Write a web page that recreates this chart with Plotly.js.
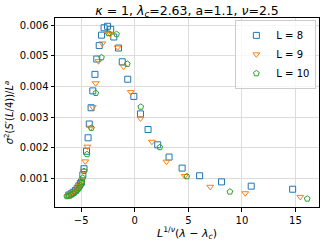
<!DOCTYPE html>
<html>
<head>
<meta charset="utf-8">
<script src="https://cdn.plot.ly/plotly-3.0.1.min.js"></script>
<style>html,body{margin:0;padding:0;background:#fff;}#chart{width:327px;height:244px;}</style>
</head>
<body>
<div id="chart"></div>
<script>
// L = 8
var x8 = [-6.15,-5.95,-5.75,-5.55,-5.38,-5.22,-5.08,-4.98,-4.85,-4.74,-4.51,-4.36,-4.25,-4.08,-3.92,-3.72,-3.55,-3.32,-3.11,-2.87,-2.55,-2.25,-1.96,-1.52,-1.17,-0.66,-0.09,0.53,1.24,2.14,3.2,4.42,6.05,8.1,10.87,14.74];
var y8 = [0.00046,0.00050,0.00055,0.00061,0.00068,0.00076,0.00084,0.00088,0.00112,0.00132,0.00189,0.00233,0.00278,0.00331,0.00386,0.00440,0.00490,0.00534,0.00568,0.00592,0.00597,0.00587,0.00562,0.00526,0.00481,0.00424,0.00368,0.00311,0.00260,0.00210,0.00170,0.00134,0.00109,0.00089,0.00075,0.00065];
// L = 9
var x9 = [-6.25,-6.05,-5.85,-5.65,-5.45,-5.28,-5.13,-5.0,-4.9,-4.77,-4.62,-4.42,-4.14,-3.92,-3.66,-3.39,-3.03,-2.55,-2.3,-1.60,-1.05,-0.37,0.53,1.60,2.96,4.67,7.04,10.31,15.45];
var y9 = [0.00043,0.00046,0.00050,0.00055,0.00061,0.00068,0.00076,0.00085,0.00097,0.00125,0.00156,0.00204,0.00266,0.00333,0.00411,0.00483,0.00541,0.00575,0.00572,0.00528,0.00465,0.00382,0.00296,0.00220,0.00155,0.00108,0.00073,0.00052,0.00040];
// L = 10
var x10 = [-6.35,-6.15,-5.95,-5.75,-5.55,-5.37,-5.2,-5.06,-4.95,-4.86,-4.74,-4.46,-4.05,-3.64,-3.11,-2.45,-1.70,-0.70,0.56,2.34,4.86,8.88,16.1];
var y10 = [0.00042,0.00044,0.00047,0.00051,0.00056,0.00062,0.00069,0.00077,0.00088,0.00102,0.00124,0.00179,0.00265,0.00379,0.00495,0.00574,0.00571,0.00474,0.00334,0.00202,0.00107,0.00057,0.00034];

var xTickVals = [-5,0,5,10,15];
var xTickText = ['\u22125','0','5','10','15'];
var yTickVals = [0.001,0.002,0.003,0.004,0.005,0.006];
var yTickText = ['0.001','0.002','0.003','0.004','0.005','0.006'];

var font = 'DejaVu Sans, sans-serif';
function tr(x,y,name,color,symbol){
  return {x:x,y:y,name:name,type:'scatter',mode:'markers',
    marker:{symbol:symbol,size:6,color:color,line:{color:color,width:1}}};
}
var data = [
  tr(x8,y8,'L = 8','#1f77b4','square-open'),
  tr(x9,y9,'L = 9','#ff7f0e','triangle-down-open'),
  tr(x10,y10,'L = 10','#2ca02c','pentagon-open')
];
var axBase = {showline:true,mirror:true,linecolor:'#000',linewidth:1,
  ticks:'outside',ticklen:3.5,tickcolor:'#000',tickwidth:1,
  showgrid:true,gridcolor:'#dcdcdc',gridwidth:1,zeroline:false,
  tickfont:{family:font,size:10,color:'#000'}};
var layout = {
  width:327,height:244,
  margin:{l:55,r:8,t:18,b:37},
  paper_bgcolor:'#fff',plot_bgcolor:'#fff',
  font:{family:font,size:10,color:'#000'},
  title:{text:'<i>κ</i> = 1, <i>λ</i><sub><i>c</i></sub>=2.63, a=1.1, <i>ν</i>=2.5',
    font:{family:font,size:12.5,color:'#000'},x:0.572,xanchor:'center',y:0.958,yanchor:'middle',yref:'container'},
  xaxis:Object.assign({},axBase,{range:[-7.45,17.2],tickvals:xTickVals,ticktext:xTickText,
    title:{text:'<i>L</i><sup>1/<i>ν</i></sup>(<i>λ</i> \u2212 <i>λ</i><sub><i>c</i></sub>)',font:{family:font,size:11,color:'#000'},standoff:4}}),
  yaxis:Object.assign({},axBase,{range:[0.00007,0.00624],tickvals:yTickVals,ticktext:yTickText,
    title:{text:'<i>σ</i><sup>2</sup>(<i>S</i>′(<i>L</i>/4))/<i>L</i><sup><i>a</i></sup>',font:{family:font,size:10,color:'#000'},standoff:4}}),
  showlegend:true,
  legend:{x:0.99,xanchor:'right',y:0.99,yanchor:'top',bgcolor:'rgba(255,255,255,0.8)',
    bordercolor:'#cccccc',borderwidth:1,font:{family:font,size:10,color:'#000'},itemwidth:30,tracegroupgap:0}
};
Plotly.newPlot('chart',data,layout,{staticPlot:true,displayModeBar:false});
</script>
</body>
</html>
